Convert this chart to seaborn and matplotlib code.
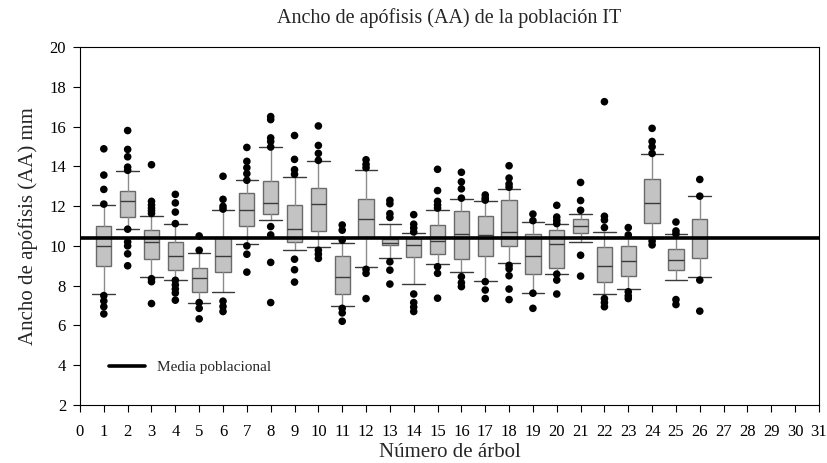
import numpy as np
import pandas as pd
import matplotlib
matplotlib.use('Agg')
import matplotlib.pyplot as plt
import seaborn as sns

# Values (per tree: box, whiskers at 10/90 pct, outliers)
TREES = list(range(1, 27))
Q1 = [9.01, 11.45, 9.32, 8.80, 7.68, 8.67, 11.02, 11.62, 10.19, 10.77, 7.58, 10.44, 10.02,
      9.43, 9.60, 9.35, 9.48, 9.98, 8.57, 8.88, 10.67, 8.16, 8.50, 11.17, 8.78, 9.37]
MED = [9.98, 12.28, 10.19, 9.48, 8.40, 9.50, 11.79, 12.17, 10.84, 12.12, 8.42, 11.37, 10.12,
       10.03, 10.27, 10.62, 10.54, 10.70, 9.50, 10.10, 10.99, 9.00, 9.23, 12.17, 9.28, 10.40]
Q3 = [11.02, 12.74, 10.82, 10.20, 8.87, 10.44, 12.66, 13.24, 12.07, 12.93, 9.47, 12.37, 10.37,
      10.40, 11.05, 11.77, 11.52, 12.29, 10.60, 10.82, 11.37, 9.93, 9.98, 13.34, 9.85, 11.37]
WLO = [7.60, 10.84, 8.42, 8.27, 7.15, 7.66, 10.07, 11.30, 9.77, 9.95, 6.97, 8.92, 9.37,
       8.07, 9.07, 8.70, 8.21, 9.15, 7.62, 8.58, 10.22, 7.57, 7.81, 10.40, 8.28, 8.45]
WHI = [12.07, 13.78, 11.52, 11.12, 9.62, 11.82, 13.29, 14.97, 13.44, 14.28, 10.12, 13.82, 11.12,
       10.65, 11.82, 12.34, 12.26, 12.86, 11.19, 11.12, 11.62, 10.69, 10.44, 14.61, 10.60, 12.49]
OUTLIERS = [
    [14.88, 13.56, 12.84, 12.1, 7.5, 7.23, 6.94, 6.58],
    [15.8, 14.85, 14.48, 13.96, 13.8, 10.84, 10.2, 10.0, 9.6, 9.0],
    [14.08, 12.24, 12.05, 11.9, 11.77, 11.63, 8.35, 8.2, 7.1],
    [12.59, 12.16, 11.7, 11.12, 8.27, 8.04, 7.83, 7.63, 7.27],
    [10.5, 9.78, 7.15, 6.86, 6.33],
    [13.5, 12.34, 11.99, 11.85, 7.22, 6.95, 6.7],
    [14.95, 14.25, 13.93, 13.63, 13.3, 10.0, 9.58, 8.68],
    [16.5, 16.35, 15.43, 15.25, 14.97, 10.97, 10.55, 9.17, 7.15],
    [15.55, 14.35, 13.83, 13.6, 9.33, 8.8, 8.18],
    [16.03, 15.05, 14.65, 14.3, 9.78, 9.58, 9.37],
    [11.05, 10.79, 10.29, 6.86, 6.63, 6.21],
    [14.33, 14.1, 13.93, 8.82, 8.62, 7.35],
    [12.29, 12.12, 11.62, 11.43, 9.2, 8.78, 8.08],
    [11.57, 11.09, 10.9, 10.7, 7.58, 7.15, 6.92, 6.7],
    [13.85, 12.78, 12.24, 12.05, 11.9, 8.95, 8.62, 7.37],
    [13.7, 13.22, 12.87, 12.4, 8.45, 8.15, 7.95],
    [12.56, 12.4, 12.3, 8.2, 7.78, 7.35],
    [14.03, 13.41, 13.11, 12.95, 9.02, 8.85, 8.5, 7.83, 7.3],
    [11.6, 11.27, 7.62, 6.86],
    [12.04, 11.45, 11.28, 11.12, 8.58, 8.28, 7.58],
    [13.19, 12.28, 11.79, 9.53, 8.48],
    [17.25, 11.49, 11.3, 10.92, 7.35, 7.15, 6.94],
    [10.92, 10.55, 7.69, 7.49, 7.35],
    [15.91, 15.25, 14.98, 14.65, 10.24, 10.05],
    [11.2, 10.75, 10.6, 7.3, 7.05],
    [13.34, 12.5, 8.28, 6.72],
]
MEAN = 10.38


def main():
    sns.set_style('ticks')
    plt.rcParams['font.family'] = ['Liberation Serif', 'DejaVu Serif']

    fig = plt.figure(figsize=(8.28, 4.63), dpi=100)
    ax = fig.add_axes([0.0966, 0.1253, 0.8925, 0.7732])

    stats = []
    for i in range(len(TREES)):
        stats.append({'q1': Q1[i], 'med': MED[i], 'q3': Q3[i],
                      'whislo': WLO[i], 'whishi': WHI[i], 'fliers': []})

    ax.bxp(stats, positions=TREES, widths=0.64, capwidths=0.95, patch_artist=True,
           showfliers=False,
           boxprops=dict(facecolor='#c3c3c3', edgecolor='#6a6a6a', linewidth=1.0),
           whiskerprops=dict(color='#8c8c8c', linewidth=1.0),
           capprops=dict(color='#3a3a3a', linewidth=1.0),
           medianprops=dict(color='#3a3a3a', linewidth=1.0))

    pts = pd.DataFrame([(t, v) for t, vals in zip(TREES, OUTLIERS) for v in vals],
                       columns=['tree', 'value'])
    sns.scatterplot(data=pts, x='tree', y='value', color='black', s=30,
                    edgecolor='none', ax=ax, zorder=4)

    ax.axhline(MEAN, color='black', linewidth=2.6, label='Media poblacional', zorder=5)

    ax.set_xlim(0, 31)
    ax.set_ylim(2, 20)
    ax.set_xticks(range(0, 32))
    ax.set_xticklabels([str(i) for i in range(0, 32)])
    ax.set_yticks(range(2, 21, 2))
    ax.tick_params(axis='both', labelsize=12, direction='out', length=5, width=0.8, colors='black')
    ax.tick_params(axis='x', pad=9)
    ax.tick_params(axis='y', pad=5)
    for s in ax.spines.values():
        s.set_linewidth(0.8)
        s.set_color('black')

    ax.set_title('Ancho de apófisis (AA) de la población IT', fontsize=14.5, pad=17)
    ax.set_xlabel('Número de árbol', fontsize=15, labelpad=2)
    ax.set_ylabel('Ancho de apófisis (AA) mm', fontsize=15, labelpad=8)

    ax.legend(loc='center left', bbox_to_anchor=(0.02, 0.106), frameon=False,
              handlelength=2.4, fontsize=11)

    fig.savefig('out.png', dpi=100)


if __name__ == '__main__':
    main()
